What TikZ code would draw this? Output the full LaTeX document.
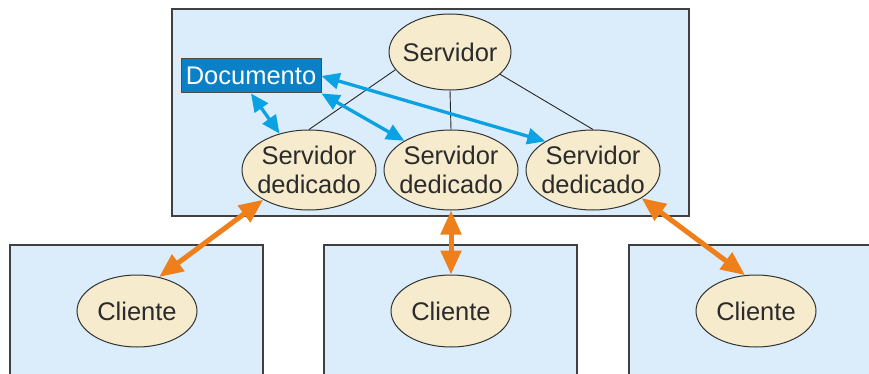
\documentclass[tikz,border=0pt]{standalone}
\usepackage{fontspec}
\setmainfont{Liberation Sans}
\usetikzlibrary{arrows.meta,shapes.geometric}
\definecolor{boxblue}{HTML}{DBEDFB}
\definecolor{beige}{HTML}{F7EBCD}
\definecolor{docblue}{HTML}{0A80C6}
\definecolor{arrblue}{HTML}{0AA2E2}
\definecolor{arrorange}{HTML}{EF7F1A}
\definecolor{ink}{HTML}{2B2B2B}

\tikzset{
    box/.style={draw=black!75, fill=boxblue, line width=1.3pt},
    ell/.style={ellipse, draw=black!80, fill=beige, line width=1pt, inner sep=0},
    txt/.style={text=ink, align=center, font=\fontsize{25.5}{29}\selectfont},
    serv/.style={ell, minimum width=122pt, minimum height=76pt,
        label={[txt]center:Servidor}},
    ded/.style={ell, minimum width=134pt, minimum height=80pt,
        label={[txt]center:Servidor\\dedicado}},
    cli/.style={ell, minimum width=120pt, minimum height=72pt,
        label={[txt]center:Cliente}},
    doc/.style={rectangle, draw=black!70, fill=docblue, line width=1pt, inner sep=0,
        minimum width=140pt, minimum height=34pt, text=white,
        font=\fontsize{25.5}{29}\selectfont},
    bluearr/.style={arrblue, line width=3.3pt,
        {Triangle[length=18pt,width=16pt]}-{Triangle[length=18pt,width=16pt]}},
    orangearr/.style={arrorange, line width=5pt,
        {Triangle[length=24pt,width=20pt]}-{Triangle[length=24pt,width=20pt]}},
    link/.style={draw=black!85, line width=0.9pt}
}

\begin{document}
\begin{tikzpicture}[x=1pt, y=-1pt]
    \useasboundingbox (0,0) rectangle (869,374);
    \clip (0,0) rectangle (869,374);
    % boxes
    \draw[box] (172,9) rectangle (689,216);
    \draw[box] (10,245) rectangle (263,390);
    \draw[box] (324,245) rectangle (577,390);
    \draw[box] (629,245) rectangle (890,390);
    % servers
    \node[serv] (serv) at (450,52) {};
    \node[ded] (ded1) at (309,170) {};
    \node[ded] (ded2) at (451,170) {};
    \node[ded] (ded3) at (593,170) {};
    \draw[link] (serv.198) -- (ded1.north);
    \draw[link] (serv.south) -- (ded2.north);
    \draw[link] (serv.336) -- (ded3.north);
    \node[doc] (doc) at (251,76) {Documento};
    % document arrows
    \draw[bluearr] (doc.south) -- (ded1.129);
    \draw[bluearr] (doc.south east) -- (ded2.148);
    \draw[bluearr] (doc.east) -- (ded3.149);
    % clients
    \node[cli] (cli1) at (137,311) {};
    \node[cli] (cli2) at (451,311) {};
    \node[cli] (cli3) at (756,311) {};
    \draw[orangearr] (ded1.213) -- (cli1.57);
    \draw[orangearr] (ded2.south) -- (cli2.north);
    \draw[orangearr] (ded3.330) -- (cli3.107);
\end{tikzpicture}
\end{document}
